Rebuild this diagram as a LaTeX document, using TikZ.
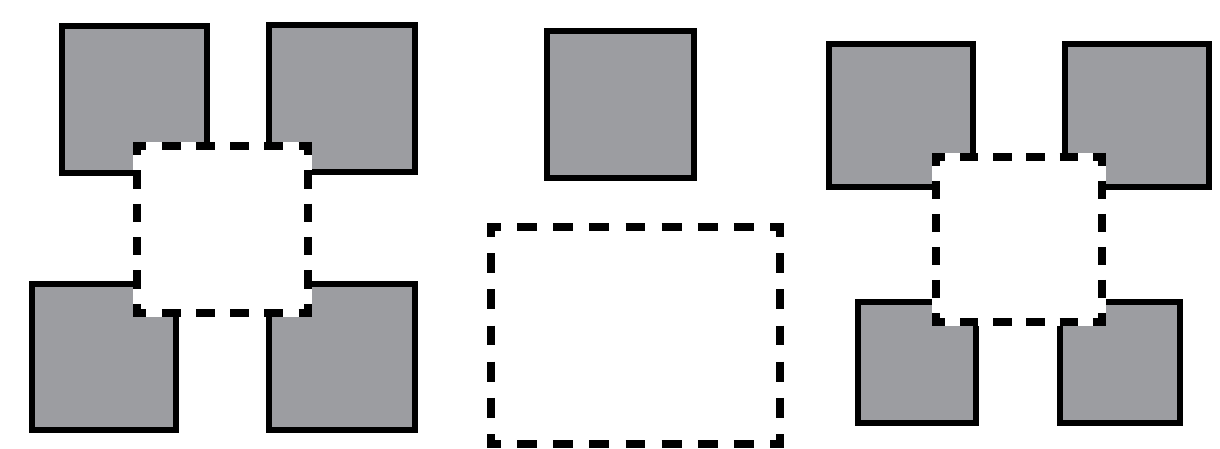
\documentclass[tikz,border=0pt]{standalone}
\usepackage{tikz}
\definecolor{sqgray}{RGB}{156,157,161}
\tikzset{
  graysq/.style={fill=sqgray, draw=black, line width=6pt, line join=miter},
  holefill/.style={fill=white, draw=none},
  dashseg/.style={draw=black, line width=8pt, line cap=butt}
}
% horizontal dashed side: x1 x2 y n
\newcommand\hdsh[4]{%
  \pgfmathsetmacro\Pd{(#2-#1)/#4}%
  \pgfmathsetmacro\Hon{0.275*\Pd}%
  \foreach \k in {0,...,#4}{%
    \pgfmathsetmacro\cc{#1+\k*\Pd}%
    \pgfmathsetmacro\aa{max(\cc-\Hon,#1-4)}%
    \pgfmathsetmacro\bb{min(\cc+\Hon,#2+4)}%
    \draw[dashseg] (\aa,#3) -- (\bb,#3);}}
% vertical dashed side: y1 y2 x n
\newcommand\vdsh[4]{%
  \pgfmathsetmacro\Pd{(#2-#1)/#4}%
  \pgfmathsetmacro\Hon{0.275*\Pd}%
  \foreach \k in {0,...,#4}{%
    \pgfmathsetmacro\cc{#1+\k*\Pd}%
    \pgfmathsetmacro\aa{max(\cc-\Hon,#1-4)}%
    \pgfmathsetmacro\bb{min(\cc+\Hon,#2+4)}%
    \draw[dashseg] (#3,\aa) -- (#3,\bb);}}
% hole: x1 y1 x2 y2 nx ny
\newcommand\hole[6]{%
  \fill[holefill] (#1-4,#2-4) rectangle (#3+4,#4+4);
  \hdsh{#1}{#3}{#2}{#5}\hdsh{#1}{#3}{#4}{#5}%
  \vdsh{#2}{#4}{#1}{#6}\vdsh{#2}{#4}{#3}{#6}}
\begin{document}
\begin{tikzpicture}[x=1pt,y=-1pt]
\useasboundingbox (0,0) rectangle (1220,449);
% left group
\draw[graysq] (62,26) rectangle (207,173);
\draw[graysq] (269,25) rectangle (415,172);
\draw[graysq] (32,284) rectangle (176,430);
\draw[graysq] (269,284) rectangle (415,430);
\hole{137}{146}{308}{313}{5}{5}
% middle
\draw[graysq] (547,31) rectangle (694,178);
\hole{491}{227}{780}{444}{8}{6}
% right group
\draw[graysq] (829,44) rectangle (973,187);
\draw[graysq] (1065,44) rectangle (1209,187);
\draw[graysq] (858,302) rectangle (976,423);
\draw[graysq] (1060,302) rectangle (1180,423);
\hole{936}{157}{1102}{322}{5}{5}
\end{tikzpicture}
\end{document}
